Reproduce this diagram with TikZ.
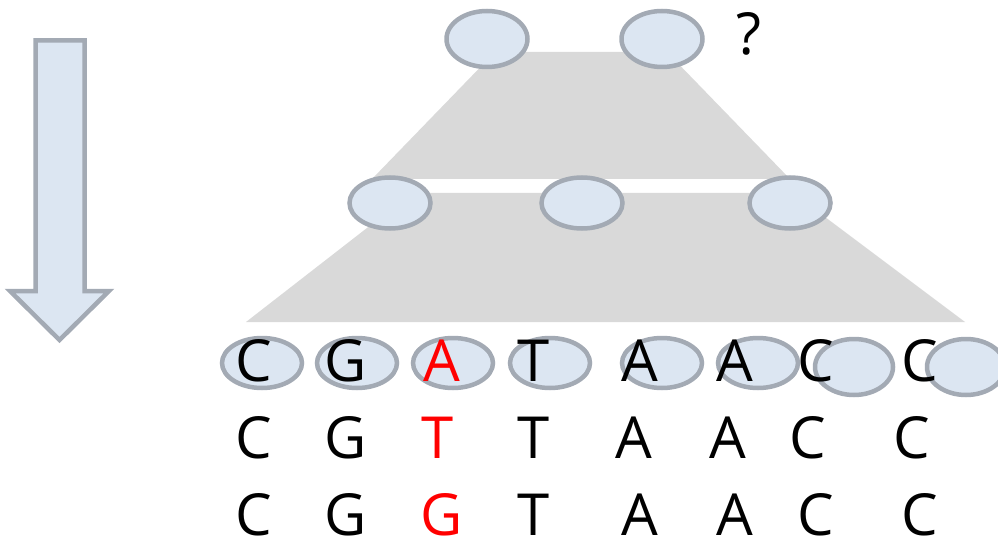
\documentclass[tikz,border=0pt]{standalone}
\usepackage{fontspec}
\setmainfont{Open Sans}
\usetikzlibrary{shapes.geometric}
\definecolor{cellfill}{RGB}{220,230,242}
\definecolor{cellline}{RGB}{163,170,180}
\definecolor{band}{RGB}{217,217,217}
\definecolor{mut}{RGB}{255,0,0}
\begin{document}
\begin{tikzpicture}[x=1pt,y=-1pt,
  cell/.style={ellipse, draw=cellline, fill=cellfill, line width=4.5pt,
    inner sep=0pt, minimum width=80pt, minimum height=50pt},
  tallcell/.style={cell, minimum width=78pt, minimum height=56pt},
  topcell/.style={cell, minimum width=81pt, minimum height=56pt},
  midcell/.style={cell, minimum width=81pt, minimum height=51pt},
  base/.style={font=\fontsize{58}{58}\selectfont, inner sep=0pt, anchor=base},
  mutated/.style={base, text=mut},
]
\useasboundingbox (0,0) rectangle (998,540);

% downward arrow on the left
\draw[draw=cellline, fill=cellfill, line width=4.5pt]
  (35.5,40.5) -- (84.5,40.5) -- (84.5,291) -- (109,291) -- (59.5,340)
  -- (10,291) -- (35.5,291) -- cycle;

% grey bands between the levels
\fill[band] (495,52) -- (667,52) -- (790,179) -- (372,179) -- cycle;
\fill[band] (412,193) -- (793,193) -- (965,322) -- (246,322) -- cycle;

% top level
\node[topcell] (t1) at (487,39) {};
\node[topcell] (t2) at (662,39) {};
\node[base] (q) at (749,55) {?};

% middle level
\node[midcell] (m1) at (390,203) {};
\node[midcell] (m2) at (582,203) {};
\node[midcell] (m3) at (790,203) {};

% bottom level cells
\node[cell] (b1) at (262,363) {};
\node[cell] (b2) at (357,363) {};
\node[cell] (b3) at (453,363) {};
\node[cell] (b4) at (550,363) {};
\node[cell] (b5) at (662,363) {};
\node[cell] (b6) at (758,363) {};
\node[tallcell] (b7) at (854,367) {};
\node[tallcell] (b8) at (966,367) {};

% sequence 1
\node[base] (s1a) at (254,381) {C};
\node[base] (s1b) at (346,381) {G};
\node[mutated] (s1c) at (442,381) {A};
\node[base] (s1d) at (534,381) {T};
\node[base] (s1e) at (640,381) {A};
\node[base] (s1f) at (735,381) {A};
\node[base] (s1g) at (816,381) {C};
\node[base] (s1h) at (920,381) {C};

% sequence 2
\node[base] (s2a) at (254,458) {C};
\node[base] (s2b) at (346,458) {G};
\node[mutated] (s2c) at (438,458) {T};
\node[base] (s2d) at (534,458) {T};
\node[base] (s2e) at (634,458) {A};
\node[base] (s2f) at (728,458) {A};
\node[base] (s2g) at (808,458) {C};
\node[base] (s2h) at (912,458) {C};

% sequence 3
\node[base] (s3a) at (254,535) {C};
\node[base] (s3b) at (346,535) {G};
\node[mutated] (s3c) at (442,535) {G};
\node[base] (s3d) at (534,535) {T};
\node[base] (s3e) at (640,535) {A};
\node[base] (s3f) at (735,535) {A};
\node[base] (s3g) at (816,535) {C};
\node[base] (s3h) at (920,535) {C};
\end{tikzpicture}
\end{document}
